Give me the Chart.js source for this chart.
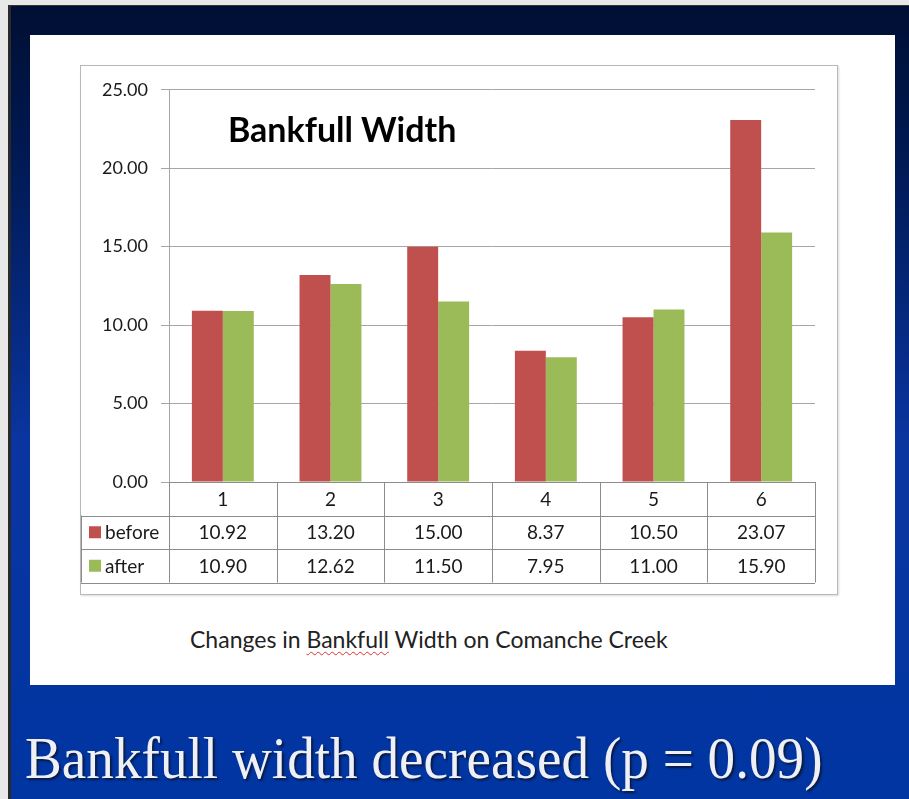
<!DOCTYPE html>
<html lang="en">
  <head>
    <meta charset="UTF-8" />
    <title>Bankfull Width</title>
    <script src="https://cdn.jsdelivr.net/npm/chart.js@4"></script>
    <style>
      html, body { margin: 0; padding: 0; }
      body {
        width: 909px;
        height: 799px;
        overflow: hidden;
        background: #e8e8e8;
        position: relative;
        font-family: Lato, "Open Sans", sans-serif;
      }
      #slide {
        position: absolute;
        left: 8px;
        top: 5px;
        width: 901px;
        height: 794px;
        border-left: 3px solid #2a2a2a;
        border-top: 1px solid #333;
        background: linear-gradient(to bottom, #000f33 0%, #001a55 20%, #0a35a0 55%, #0035a2 100%);
      }
      #panel {
        position: absolute;
        left: 30px;
        top: 35px;
        width: 865px;
        height: 650px;
        background: #fff;
      }
      #chart-box {
        position: absolute;
        left: 80px;
        top: 65px;
        width: 756px;
        height: 528px;
        border: 1px solid #b8b8b8;
        box-shadow: 1px 1px 2px rgba(0, 0, 0, 0.15);
        background: #fff;
      }
      #chart-title {
        position: absolute;
        left: 228px;
        top: 108px;
        font-family: Lato, sans-serif;
        font-weight: bold;
        font-size: 34px;
        color: #000;
      }
      #caption {
        position: absolute;
        left: 190px;
        top: 625px;
        font-size: 23px;
        color: #222;
      }
      #caption span {
        text-decoration: underline wavy #e03030;
        text-decoration-thickness: 1px;
        text-underline-offset: 3px;
      }
      #headline {
        position: absolute;
        left: 25px;
        top: 728px;
        font-family: "Liberation Serif", "DejaVu Serif", serif;
        font-size: 60px;
        line-height: 1;
        color: #eef0f6;
        text-shadow: 2px 2px 2px #0a1a40;
        white-space: nowrap;
        transform: scaleX(0.92);
        transform-origin: left top;
      }
    </style>
  </head>
  <body>
    <div id="slide"></div>
    <div id="panel"></div>
    <div id="chart-box">
      <canvas id="bankChart" width="756" height="528"></canvas>
    </div>
    <div id="chart-title">Bankfull Width</div>
    <div id="caption">Changes in <span>Bankfull</span> Width on Comanche Creek</div>
    <div id="headline">Bankfull width decreased (p = 0.09)</div>

    <script>
      const sites = ["1", "2", "3", "4", "5", "6"];
      const beforeWidth = [10.92, 13.2, 15.0, 8.37, 10.5, 23.07];
      const afterWidth = [10.9, 12.62, 11.5, 7.95, 11.0, 15.9];
      const seriesNames = ["before", "after"];
      const seriesColors = ["#c0504d", "#9bbb59"];

      // draws the Excel-style data table under the plot
      const dataTable = {
        id: "dataTable",
        afterDraw(chart) {
          const ctx = chart.ctx;
          const area = chart.chartArea;
          const x = chart.scales.x;
          const colW = (area.right - area.left) / sites.length;
          const rowH = 33.5;
          const top = area.bottom;
          const rows = [beforeWidth, afterWidth];

          ctx.save();
          ctx.strokeStyle = "#8c8c8c";
          ctx.lineWidth = 1;

          // horizontal lines
          ctx.beginPath();
          ctx.moveTo(area.left, top + 0.5);
          ctx.lineTo(area.right, top + 0.5);
          for (let r = 1; r <= 3; r++) {
            const y = Math.round(top + r * rowH) + 0.5;
            ctx.moveTo(0, y);
            ctx.lineTo(area.right, y);
          }
          // vertical lines
          for (let c = 0; c <= sites.length; c++) {
            const xx = Math.round(area.left + c * colW) + 0.5;
            ctx.moveTo(xx, top);
            ctx.lineTo(xx, top + 3 * rowH);
          }
          ctx.moveTo(0.5, top + rowH);
          ctx.lineTo(0.5, top + 3 * rowH);
          ctx.stroke();

          ctx.fillStyle = "#1a1a1a";
          ctx.font = "19px Lato, sans-serif";
          ctx.textAlign = "center";
          ctx.textBaseline = "middle";
          sites.forEach((s, i) => {
            const cx = x.getPixelForValue(i);
            ctx.fillText(s, cx, top + rowH / 2 + 1);
            rows.forEach((vals, r) => {
              ctx.fillText(vals[i].toFixed(2), cx, top + (r + 1.5) * rowH + 1);
            });
          });

          // legend keys in the row labels
          ctx.textAlign = "left";
          seriesNames.forEach((name, r) => {
            const cy = top + (r + 1.5) * rowH;
            ctx.fillStyle = seriesColors[r];
            ctx.fillRect(8, cy - 6, 12, 12);
            ctx.fillStyle = "#1a1a1a";
            ctx.fillText(name, 24, cy + 1);
          });
          ctx.restore();
        },
      };

      new Chart(document.getElementById("bankChart"), {
        type: "bar",
        data: {
          labels: sites,
          datasets: [
            {
              label: seriesNames[0],
              data: beforeWidth,
              backgroundColor: seriesColors[0],
              categoryPercentage: 0.575,
              barPercentage: 1,
            },
            {
              label: seriesNames[1],
              data: afterWidth,
              backgroundColor: seriesColors[1],
              categoryPercentage: 0.575,
              barPercentage: 1,
            },
          ],
        },
        options: {
          responsive: false,
          animation: false,
          layout: {
            padding: { top: 22, right: 22, bottom: 112, left: 0 },
          },
          plugins: {
            legend: { display: false },
            tooltip: { enabled: false },
          },
          scales: {
            x: {
              display: false,
            },
            y: {
              min: 0,
              max: 25,
              afterFit(scale) {
                scale.width = 88;
              },
              ticks: {
                stepSize: 5,
                padding: 13,
                color: "#1a1a1a",
                font: { family: "Lato", size: 18 },
                callback: (v) => Number(v).toFixed(2),
              },
              grid: {
                color: "#a6a6a6",
                tickLength: 8,
              },
              border: { color: "#a6a6a6" },
            },
          },
        },
        plugins: [dataTable],
      });
    </script>
  </body>
</html>
